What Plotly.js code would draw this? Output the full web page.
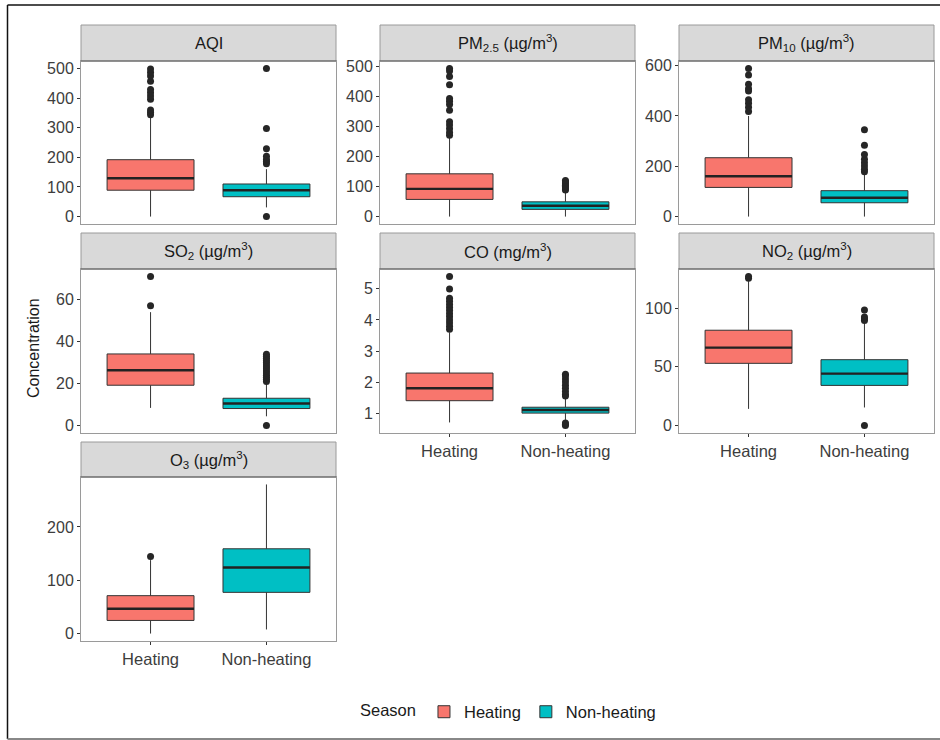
<!DOCTYPE html>
<html>
<head>
<meta charset="utf-8">
<script src="https://cdn.plot.ly/plotly-3.0.1.min.js"></script>
<style>
  html, body { margin: 0; padding: 0; background: #ffffff; }
  #chart { width: 940px; height: 740px; }
</style>
</head>
<body>
<div id="chart"></div>
<script>
// Facet titles (one panel per pollutant)
const panelTitles = [
  'AQI',
  'PM<sub>2.5</sub> (µg/m<sup>3</sup>)',
  'PM<sub>10</sub> (µg/m<sup>3</sup>)',
  'SO<sub>2</sub> (µg/m<sup>3</sup>)',
  'CO (mg/m<sup>3</sup>)',
  'NO<sub>2</sub> (µg/m<sup>3</sup>)',
  'O<sub>3</sub> (µg/m<sup>3</sup>)'
];
const seasons = ['Heating', 'Non-heating'];

// Box statistics, heating season
const heatingQ1     = [89,    57,  116, 19.2, 1.40, 53.0, 25.1];
const heatingMedian = [129.5, 92,  160.5, 26.3, 1.80, 66.4, 47.0];
const heatingQ3     = [192,   142, 234, 34.1, 2.29, 81.2, 71.5];
const heatingLower  = [0,     0,   0,   8.4,  0.70, 14.2, 0.6];
const heatingUpper  = [340,   266, 400, 54,   3.6,  123,  138];
const heatingOutliers = [
  [344, 352, 360, 396, 407, 418, 429, 457, 474, 486, 498],
  [270, 279, 292, 304, 315, 353, 372, 383, 392, 438, 465, 483, 492],
  [418, 435, 451, 464, 499, 508, 526, 563, 589],
  [57, 71],
  [3.7, 3.8, 3.9, 4.0, 4.1, 4.2, 4.3, 4.4, 4.5, 4.6, 4.7, 5.0, 5.4],
  [125.5, 127],
  [145]
];

// Box statistics, non-heating season
const nonHeatingQ1     = [67,  24, 55,  8.1,  1.00, 34.2, 77.7];
const nonHeatingMedian = [89,  36, 75,  10.5, 1.10, 44.2, 124.1];
const nonHeatingQ3     = [110, 49, 103, 13.0, 1.19, 56.1, 159.2];
const nonHeatingLower  = [31,  0,  0,   4.4,  0.78, 15.4, 8.2];
const nonHeatingUpper  = [160, 85, 172, 20,   1.50, 88,   279.6];
const nonHeatingOutliers = [
  [0, 178, 186, 193, 204, 229, 297, 500],
  [88, 92, 96, 100, 104, 108, 112, 116, 120],
  [178, 188, 201, 214, 228, 247, 284, 345],
  [0, 21, 22, 23, 24, 25, 26, 27, 28, 29, 30, 31, 32, 33, 34],
  [0.6, 0.64, 0.68, 1.55, 1.6, 1.7, 1.8, 1.9, 2.0, 2.1, 2.2, 2.25],
  [0, 89.5, 91, 92.5, 98.5],
  []
];

// Y tick spacing per panel
const yTickStep = [100, 100, 200, 20, 1, 50, 100];

const W = 940, H = 740;
const fillColors = ['#F8766D', '#00BFC4'];
const lineDark = '#333333';
const tickGrey = '#3d3d3d';
const fontFamily = '"Liberation Sans", Arial, Helvetica, sans-serif';

// panel geometry in pixels
const colX = [[81, 336], [380, 635], [679, 934]];
const rowPlot = [[61, 224], [269, 433], [477, 641]];
const rowStrip = [[25, 61], [233, 269], [442, 477]];
const bottomPanels = [4, 5, 6];

const px = v => v / W;
const py = v => 1 - v / H;

const stats = [
  {q1: heatingQ1, med: heatingMedian, q3: heatingQ3, lo: heatingLower, hi: heatingUpper, out: heatingOutliers},
  {q1: nonHeatingQ1, med: nonHeatingMedian, q3: nonHeatingQ3, lo: nonHeatingLower, hi: nonHeatingUpper, out: nonHeatingOutliers}
];

const traces = [];
const layout = {
  width: W, height: H,
  margin: {l: 0, r: 0, t: 0, b: 0},
  paper_bgcolor: '#ffffff',
  plot_bgcolor: '#ffffff',
  font: {family: fontFamily, color: '#1a1a1a', size: 16},
  showlegend: true,
  boxmode: 'overlay',
  legend: {
    orientation: 'h',
    x: 358 / W, xanchor: 'left',
    y: py(712), yanchor: 'middle',
    title: {text: 'Season', side: 'left', font: {size: 16.5, color: '#1a1a1a'}},
    font: {size: 16.5, color: '#1a1a1a'},
    itemwidth: 30,
    bgcolor: 'rgba(0,0,0,0)'
  },
  shapes: [],
  annotations: []
};

const boxHalf = 0.375;

panelTitles.forEach((title, i) => {
  const col = i % 3, row = Math.floor(i / 3);
  const xName = i === 0 ? 'x' : 'x' + (i + 1);
  const yName = i === 0 ? 'y' : 'y' + (i + 1);
  const xKey = i === 0 ? 'xaxis' : 'xaxis' + (i + 1);
  const yKey = i === 0 ? 'yaxis' : 'yaxis' + (i + 1);

  // y range from the data, with a 5% pad either side
  const all = [];
  stats.forEach(s => { all.push(s.lo[i], s.hi[i], ...s.out[i]); });
  const mn = Math.min(...all), mx = Math.max(...all);
  const pad = (mx - mn) * 0.05;

  const isBottom = bottomPanels.includes(i);
  layout[xKey] = {
    domain: [px(colX[col][0]), px(colX[col][1])],
    anchor: yName,
    range: [0.4, 2.6],
    tickvals: [1, 2],
    ticktext: seasons,
    showticklabels: isBottom,
    ticks: isBottom ? 'outside' : '',
    ticklen: 3, tickcolor: lineDark, tickwidth: 1,
    tickfont: {size: 16.5, color: tickGrey},
    showgrid: false, zeroline: false,
    showline: true, mirror: true, linecolor: '#9a9a9a', linewidth: 1,
    fixedrange: true
  };
  layout[yKey] = {
    domain: [py(rowPlot[row][1]), py(rowPlot[row][0])],
    anchor: xName,
    range: [mn - pad, mx + pad],
    tick0: 0, dtick: yTickStep[i],
    ticks: 'outside', ticklen: 3, tickcolor: lineDark, tickwidth: 1,
    tickfont: {size: 16, color: tickGrey},
    showgrid: false, zeroline: false,
    showline: true, mirror: true, linecolor: '#9a9a9a', linewidth: 1,
    fixedrange: true
  };

  // facet strip
  layout.shapes.push({
    type: 'rect', xref: 'paper', yref: 'paper',
    x0: px(colX[col][0]), x1: px(colX[col][1]),
    y0: py(rowStrip[row][1]), y1: py(rowStrip[row][0]),
    fillcolor: '#D9D9D9', line: {color: '#9a9a9a', width: 1}
  });
  layout.shapes.push({
    type: 'line', xref: 'paper', yref: 'paper',
    x0: px(colX[col][0]), x1: px(colX[col][1]),
    y0: py(rowStrip[row][1]), y1: py(rowStrip[row][1]),
    line: {color: '#555555', width: 1.2}
  });
  layout.annotations.push({
    text: title, xref: 'paper', yref: 'paper', showarrow: false,
    x: px((colX[col][0] + colX[col][1]) / 2),
    y: py((rowStrip[row][0] + rowStrip[row][1]) / 2),
    xanchor: 'center', yanchor: 'middle',
    font: {size: 16.5, color: '#1a1a1a'}
  });

  stats.forEach((s, k) => {
    const pos = k + 1;
    traces.push({
      type: 'box', name: seasons[k], legendgroup: seasons[k],
      showlegend: i === 0,
      xaxis: xName, yaxis: yName,
      x: [pos],
      q1: [s.q1[i]], median: [s.med[i]], q3: [s.q3[i]],
      lowerfence: [s.lo[i]], upperfence: [s.hi[i]],
      width: 2 * boxHalf,
      whiskerwidth: 0,
      boxpoints: false,
      fillcolor: fillColors[k],
      line: {color: lineDark, width: 1},
      hoverinfo: 'skip'
    });
    // thicker median bar
    traces.push({
      type: 'scatter', mode: 'lines', showlegend: false,
      xaxis: xName, yaxis: yName,
      x: [pos - boxHalf, pos + boxHalf],
      y: [s.med[i], s.med[i]],
      line: {color: '#222222', width: 2.4},
      hoverinfo: 'skip'
    });
    if (s.out[i].length) {
      traces.push({
        type: 'scatter', mode: 'markers', showlegend: false,
        xaxis: xName, yaxis: yName,
        x: s.out[i].map(() => pos),
        y: s.out[i],
        marker: {color: '#262626', size: 7},
        hoverinfo: 'skip'
      });
    }
  });
});

// shared y title
layout.annotations.push({
  text: 'Concentration', xref: 'paper', yref: 'paper', showarrow: false,
  x: px(33), y: py(348), textangle: -90,
  xanchor: 'center', yanchor: 'middle',
  font: {size: 16, color: '#1a1a1a'}
});

// outer frame
layout.shapes.push(
  {type: 'line', xref: 'paper', yref: 'paper', x0: px(7.5), x1: 1, y0: py(5), y1: py(5), line: {color: '#111111', width: 1.5}},
  {type: 'line', xref: 'paper', yref: 'paper', x0: px(7.5), x1: px(7.5), y0: py(5), y1: py(739), line: {color: '#111111', width: 1.5}},
  {type: 'line', xref: 'paper', yref: 'paper', x0: px(7.5), x1: 1, y0: py(739), y1: py(739), line: {color: '#888888', width: 2}}
);

Plotly.newPlot('chart', traces, layout, {displayModeBar: false, staticPlot: true});
</script>
</body>
</html>
